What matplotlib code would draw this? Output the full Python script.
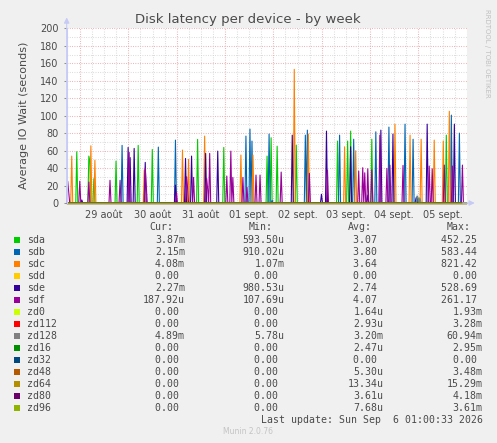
import numpy as np
import matplotlib
matplotlib.use("Agg")
from matplotlib import pyplot as plt
from matplotlib.patches import Rectangle

W, H = 497, 443

# legend table
names = ["sda", "sdb", "sdc", "sdd", "sde", "sdf", "zd0", "zd112", "zd128",
         "zd16", "zd32", "zd48", "zd64", "zd80", "zd96"]
cur = ["3.87m", "2.15m", "4.08m", "0.00", "2.27m", "187.92u", "0.00", "0.00",
       "4.89m", "0.00", "0.00", "0.00", "0.00", "0.00", "0.00"]
minv = ["593.50u", "910.02u", "1.07m", "0.00", "980.53u", "107.69u", "0.00",
        "0.00", "5.78u", "0.00", "0.00", "0.00", "0.00", "0.00", "0.00"]
avg = ["3.07", "3.80", "3.64", "0.00", "2.74", "4.07", "1.64u", "2.93u",
       "3.20m", "2.47u", "0.00", "5.30u", "13.34u", "3.61u", "7.68u"]
maxv = ["452.25", "583.44", "821.42", "0.00", "528.69", "261.17", "1.93m",
        "3.28m", "60.94m", "2.95m", "0.00", "3.48m", "15.29m", "4.18m", "3.61m"]
colors = ["#00CC00", "#0066B3", "#FF8000", "#FFCC00", "#330099", "#990099",
          "#CCFF00", "#FF0000", "#808080", "#008F00", "#00487D", "#B35A00",
          "#B38F00", "#6B006B", "#8FB300"]

day_labels = ["29 août", "30 août", "31 août", "01 sept.", "02 sept.",
              "03 sept.", "04 sept.", "05 sept."]

# spikes: (days since 28 Aug 00:00, seconds)
sda = [(0.923, 58.7), (1.186, 53.7), (1.21, 48), (1.296, 27.8), (1.751, 48),
       (2.206, 66), (2.496, 61.3), (3.43, 72.8), (3.964, 63.6), (4.868, 53.7),
       (4.958, 74.7), (5.08, 65), (5.475, 66.3), (6.323, 70.9), (6.53, 70.9),
       (6.592, 82.3), (7.027, 73), (8.578, 77.7), (8.01, 6)]
sdb = [(1.875, 66), (2.62, 64), (2.965, 72), (4.434, 76.6), (4.523, 84.6),
       (4.565, 70.9), (4.916, 78.9), (4.98, 3), (5.655, 77.7), (5.70, 83.4),
       (6.365, 77.7), (6.654, 73), (7.11, 81.5), (7.40, 86.9), (7.73, 90.3),
       (7.896, 73), (7.98, 8), (8.682, 100.6), (8.847, 80)]
sdc = [(0.834, 53.7), (1.234, 65.5), (1.317, 49), (2.323, 37.7), (3.13, 60.6),
       (3.24, 50), (3.585, 76.6), (4.337, 54.9), (4.585, 54.9), (5.427, 153),
       (5.717, 78.9), (6.468, 64.4), (6.696, 59.8), (7.524, 90.3),
       (7.834, 77.7), (8.061, 73), (8.33, 72), (8.516, 70.9), (8.64, 105)]
sde = [(1.03, 3.5), (2.0, 63.6), (2.045, 52), (2.123, 62.5), (2.344, 46.5),
       (2.975, 20.5), (3.18, 51), (3.30, 53.7), (3.60, 56.8), (3.84, 59.4),
       (5.386, 77.7), (5.986, 10), (6.096, 82.3), (6.607, 64.4), (6.96, 9),
       (7.234, 83.4), (7.482, 78.9), (7.95, 6), (8.185, 90.3), (8.744, 90.3)]
sdf = [(0.75, 25), (0.77, 12), (1.0, 25), (1.19, 24), (1.627, 26),
       (1.834, 26), (2.02, 58), (2.35, 40), (2.37, 20), (2.99, 12), (3.20, 30),
       (3.22, 18), (3.34, 29.3), (3.62, 28), (3.64, 16), (3.675, 56.8),
       (4.027, 30.9), (4.11, 59.4), (4.13, 25), (4.17, 29.3), (4.36, 29.3),
       (4.46, 18), (4.647, 32), (4.717, 32), (5.164, 35.4), (5.737, 34),
       (6.11, 37.7), (6.758, 36.6), (6.84, 40.4), (6.882, 34.6),
       (6.944, 39.2), (7.04, 38), (7.207, 77.7), (7.358, 39.6), (7.42, 43.4),
       (7.689, 43), (8.227, 42.3), (8.289, 39.2), (8.53, 43.4), (8.70, 42.3),
       (8.91, 43.4)]
zd128 = [(7.97, 7), (8.0, 6), (8.03, 5)]

spikes = {"sda": sda, "sdb": sdb, "sdc": sdc, "sde": sde, "sdf": sdf,
          "zd128": zd128}

t0, t1 = 0.724, 9.0
t = np.arange(t0, t1, 1 / 48)


def series(pts):
    y = np.zeros_like(t)
    for d, v in pts:
        i = int(round((d - t0) * 48))
        y[i] = max(y[i], v)
    return y


def px(x, y):
    return x / W, 1 - y / H


fig = plt.figure(figsize=(W / 100, H / 100), dpi=100, facecolor="#F0F0F0")
ax = fig.add_axes([66.7 / W, 1 - 203 / H, 400 / W, 174.7 / H])
ax.set_facecolor("white")
ax.set_xlim(t0, t1)
ax.set_ylim(0, 200)

# grid
minor_c, major_c = "#D4D4D4", "#EAA2A2"
dots = (0, (0.75, 1.5))
for v in np.arange(10, 200, 20):
    ax.axhline(v, color=minor_c, lw=0.75, ls=dots, zorder=0)
for v in np.arange(20, 201, 20):
    ax.axhline(v, color=major_c, lw=0.75, ls=dots, zorder=0)
for d in np.arange(1, 9.01, 0.25):
    c = major_c if abs(d - round(d)) < 1e-6 else minor_c
    ax.axvline(d, color=c, lw=0.75, ls=dots, zorder=0)

for name, c in zip(names, colors):
    ax.plot(t, series(spikes.get(name, [])), color=c, lw=0.8,
            clip_on=False, zorder=2)

ax.set_yticks(np.arange(0, 201, 20))
ax.set_xticks(np.arange(1.5, 9, 1), labels=day_labels)
ax.tick_params(axis="both", labelsize=7, labelcolor="#4A4A4A",
               color="#909090", length=2, width=0.75)
ax.tick_params(axis="y", pad=4)
ax.tick_params(axis="x", length=0, pad=5)
for s in ["top", "right", "bottom"]:
    ax.spines[s].set_visible(False)
ax.spines["left"].set_color("#CACCF5")
ax.spines["left"].set_linewidth(0.8)
arrow = dict(arrowstyle="-|>", color="#C6CAF5", lw=0.8, mutation_scale=8,
             shrinkA=0, shrinkB=0)
ax.annotate("", xy=(1.02, 0), xytext=(0.99, 0), xycoords="axes fraction",
            arrowprops=arrow, annotation_clip=False, zorder=3)
ax.annotate("", xy=(0, 1.062), xytext=(0, 0), xycoords="axes fraction",
            arrowprops=arrow, annotation_clip=False, zorder=3)
ax.set_ylabel("Average IO Wait (seconds)", fontsize=8, color="#4A4A4A",
              labelpad=8)

fig.text(*px(248, 19), "Disk latency per device - by week", ha="center",
         va="center", fontsize=9.5, color="#4A4A4A")
fig.text(*px(487, 53), "RRDTOOL / TOBI OETIKER", rotation=270, ha="center",
         va="center", fontsize=5, color="#C0C0C0")

# legend
mono = dict(family="DejaVu Sans Mono", fontsize=7.1, color="#4A4A4A",
            va="center")
fig.text(*px(149.3, 227.3), "Cur:", ha="left", **mono)
fig.text(*px(248.3, 227.3), "Min:", ha="left", **mono)
fig.text(*px(347.7, 227.3), "Avg:", ha="left", **mono)
fig.text(*px(446.7, 227.3), "Max:", ha="left", **mono)


def fmt(s):
    return s if s[-1] in "mu" else s + " "


for i, name in enumerate(names):
    y = 239.7 + 12 * i
    fig.patches.append(Rectangle(px(14, y + 3), 6 / W, 6 / H,
                                 transform=fig.transFigure,
                                 facecolor=colors[i], edgecolor="none"))
    fig.text(*px(26.7, y), name, ha="left", **mono)
    fig.text(*px(185, y), fmt(cur[i]), ha="right", **mono)
    fig.text(*px(284.3, y), fmt(minv[i]), ha="right", **mono)
    fig.text(*px(383.3, y), fmt(avg[i]), ha="right", **mono)
    fig.text(*px(482.7, y), fmt(maxv[i]), ha="right", **mono)

fig.text(*px(482.7, 419.7), "Last update: Sun Sep  6 01:00:33 2026",
         ha="right", **mono)
fig.text(*px(248, 432), "Munin 2.0.76", ha="center", va="center",
         fontsize=5.5, color="#C4C4C4")

fig.savefig("out.png", dpi=100, facecolor=fig.get_facecolor())
